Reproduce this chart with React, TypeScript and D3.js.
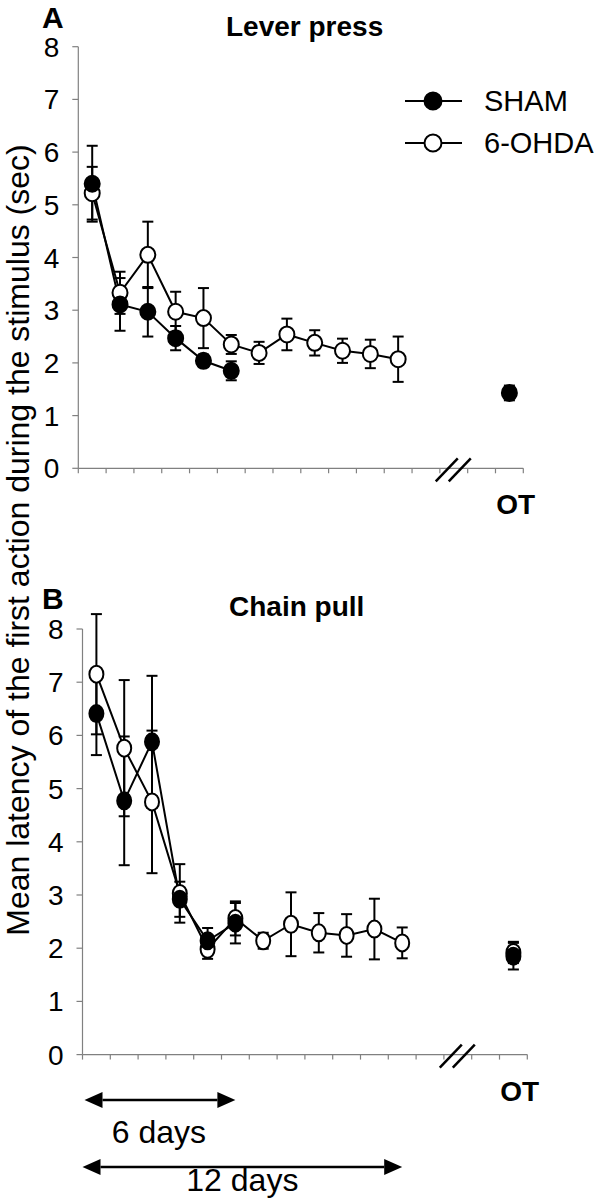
import React from "react";
import * as d3 from "d3";

// ---- Data ----
const categories = d3.range(16); // 12 training days + gap + OT (index 15)
const otIndex = 15;
const yTicks = [0, 1, 2, 3, 4, 5, 6, 7, 8];

const leverShamMean = [5.4, 3.11, 2.97, 2.47, 2.04, 1.85];
const leverShamErr = [0.72, 0.5, 0.47, 0.23, 0.12, 0.18];
const leverShamOT = [1.43, 0.14];
const leverOhdaMean = [5.22, 3.33, 4.05, 2.97, 2.85, 2.35, 2.19, 2.54, 2.38, 2.23, 2.17, 2.07];
const leverOhdaErr = [0.5, 0.4, 0.63, 0.38, 0.57, 0.18, 0.21, 0.3, 0.24, 0.23, 0.27, 0.43];

const chainShamMean = [6.41, 4.77, 5.88, 2.92, 2.14, 2.47];
const chainShamErr = [0.78, 1.21, 1.24, 0.33, 0.24, 0.38];
const chainShamOT = [1.85, 0.25];
const chainOhdaMean = [7.15, 5.76, 4.75, 3.03, 1.98, 2.56, 2.14, 2.45, 2.29, 2.24, 2.36, 2.1];
const chainOhdaErr = [1.13, 1.28, 1.34, 0.55, 0.18, 0.32, 0.15, 0.6, 0.37, 0.4, 0.57, 0.29];
const chainOhdaOT = [1.92, 0.2];

const legendLabels = ["SHAM", "6-OHDA"];
const FONT = "'Liberation Sans', Arial, sans-serif";

type Pt = { i: number; m: number; e: number };
const toPts = (means: number[], errs: number[]): Pt[] => means.map((m, i) => ({ i, m, e: errs[i] }));

function Panel(props: {
  x0: number; x1: number; y0: number; y8: number;
  letter: string; letterY: number; title: string; titleX: number; titleY: number;
  sham: Pt[]; ohda: Pt[]; shamOT?: number[]; ohdaOT?: number[];
  rx: number; ry: number; legend?: boolean;
}) {
  const { x0, x1, y0, y8, sham, ohda, rx, ry } = props;
  const x = d3.scaleBand<number>().domain(categories).range([x0, x1]).paddingInner(0).paddingOuter(0);
  const y = d3.scaleLinear().domain([0, 8]).range([y0, y8]);
  const cx = (i: number) => (x(i) as number) + x.bandwidth() / 2;
  const line = d3.line<Pt>().x((d) => cx(d.i)).y((d) => y(d.m));
  const shamAll: Pt[] = [...sham];
  const ohdaAll: Pt[] = [...ohda];
  if (props.shamOT) shamAll.push({ i: otIndex, m: props.shamOT[0], e: props.shamOT[1] });
  if (props.ohdaOT) ohdaAll.push({ i: otIndex, m: props.ohdaOT[0], e: props.ohdaOT[1] });
  const cap = 5.5;
  const errBars = (pts: Pt[], key: string) =>
    pts.map((d, k) => (
      <g key={key + k} stroke="#000" strokeWidth={2}>
        <line x1={cx(d.i)} x2={cx(d.i)} y1={y(d.m + d.e)} y2={y(d.m - d.e)} />
        <line x1={cx(d.i) - cap} x2={cx(d.i) + cap} y1={y(d.m + d.e)} y2={y(d.m + d.e)} />
        <line x1={cx(d.i) - cap} x2={cx(d.i) + cap} y1={y(d.m - d.e)} y2={y(d.m - d.e)} />
      </g>
    ));
  const markers = (pts: Pt[], fill: string, key: string) =>
    pts.map((d, k) => (
      <ellipse key={key + k} cx={cx(d.i)} cy={y(d.m)} rx={rx} ry={ry} fill={fill} stroke="#000" strokeWidth={2} />
    ));
  const bc = cx(13);
  const tickXs = categories.map((c) => x(c) as number).concat([x1]);
  return (
    <g>
      <text x={42} y={props.letterY} fontFamily={FONT} fontWeight="bold" fontSize={30}>{props.letter}</text>
      <text x={props.titleX} y={props.titleY} fontFamily={FONT} fontWeight="bold" fontSize={28}>{props.title}</text>
      {/* axes */}
      <g stroke="#808080" strokeWidth={1.2}>
        <line x1={x0} x2={x0} y1={y0} y2={y8} />
        <line x1={x0} x2={x1} y1={y0} y2={y0} />
        {yTicks.map((t) => (
          <line key={"yt" + t} x1={x0 - 6} x2={x0} y1={y(t)} y2={y(t)} />
        ))}
        {tickXs.map((tx, k) => (
          <line key={"xt" + k} x1={tx} x2={tx} y1={y0} y2={y0 + 5} />
        ))}
      </g>
      {yTicks.map((t) => (
        <text key={"yl" + t} x={x0 - 19} y={y(t)} dy="0.36em" textAnchor="end" fontFamily={FONT} fontSize={28}>{t}</text>
      ))}
      {/* axis break */}
      <g stroke="#000" strokeWidth={2.5}>
        <line x1={bc - 18} y1={y0 + 13} x2={bc + 4} y2={y0 - 10} />
        <line x1={bc - 5} y1={y0 + 13} x2={bc + 17} y2={y0 - 10} />
      </g>
      <text x={bc + 62} y={y0 + 46} textAnchor="middle" fontFamily={FONT} fontWeight="bold" fontSize={28}>OT</text>
      {/* data */}
      {errBars(ohdaAll, "eo")}
      {errBars(shamAll, "es")}
      <path d={line(ohda) || ""} fill="none" stroke="#000" strokeWidth={2} />
      <path d={line(sham) || ""} fill="none" stroke="#000" strokeWidth={2} />
      {markers(ohdaAll, "#fff", "mo")}
      {markers(shamAll, "#000", "ms")}
      {props.legend && (
        <g>
          {legendLabels.map((lab, k) => {
            const ly = 101 + k * 42;
            return (
              <g key={lab}>
                <line x1={405} x2={462} y1={ly} y2={ly} stroke="#000" strokeWidth={2} />
                <ellipse cx={433} cy={ly} rx={8.5} ry={8.5} fill={k === 0 ? "#000" : "#fff"} stroke="#000" strokeWidth={2} />
                <text x={484} y={ly} dy="0.36em" fontFamily={FONT} fontSize={29}>{lab}</text>
              </g>
            );
          })}
        </g>
      )}
    </g>
  );
}

function Arrow(props: { xa: number; xb: number; y: number }) {
  const { xa, xb, y } = props;
  const h = 18, w = 8;
  return (
    <g>
      <line x1={xa + h} x2={xb - h} y1={y} y2={y} stroke="#000" strokeWidth={2.5} />
      <path d={`M${xa},${y} L${xa + h},${y - w} L${xa + h},${y + w} Z`} fill="#000" />
      <path d={`M${xb},${y} L${xb - h},${y - w} L${xb - h},${y + w} Z`} fill="#000" />
    </g>
  );
}

export default function App() {
  const bx0 = 82.5, bx1 = 527.3;
  const bx = d3.scaleBand<number>().domain(categories).range([bx0, bx1]);
  const bcx = (i: number) => (bx(i) as number) + bx.bandwidth() / 2;
  return (
    <svg width={598} height={1200} style={{ position: "absolute", left: 0, top: 0, background: "#fff" }}>
      <rect width={598} height={1200} fill="#fff" />
      <Panel x0={78.3} x1={523.3} y0={468.3} y8={46.7} letter="A" letterY={28} title="Lever press" titleX={226} titleY={36}
        sham={toPts(leverShamMean, leverShamErr)} ohda={toPts(leverOhdaMean, leverOhdaErr)}
        shamOT={leverShamOT} rx={7.5} ry={8} legend />
      <Panel x0={bx0} x1={bx1} y0={1054.6} y8={629} letter="B" letterY={609} title="Chain pull" titleX={229} titleY={616}
        sham={toPts(chainShamMean, chainShamErr)} ohda={toPts(chainOhdaMean, chainOhdaErr)}
        shamOT={chainShamOT} ohdaOT={chainOhdaOT} rx={7} ry={8.5} />
      <text transform="translate(29,540) rotate(-90)" textAnchor="middle" fontFamily={FONT} fontSize={32}>
        Mean latency of the first action during the stimulus (sec)
      </text>
      <Arrow xa={bx0 + 2} xb={bcx(5)} y={1100} />
      <text x={(bx0 + bcx(5)) / 2} y={1143} textAnchor="middle" fontFamily={FONT} fontSize={32}>6 days</text>
      <Arrow xa={bx0} xb={bcx(11)} y={1167} />
      <text x={(bx0 + bcx(11)) / 2} y={1191} textAnchor="middle" fontFamily={FONT} fontSize={32}>12 days</text>
    </svg>
  );
}
